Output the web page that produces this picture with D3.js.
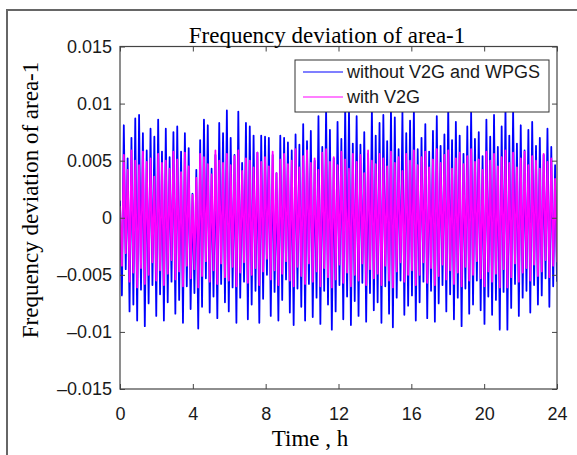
<!DOCTYPE html>
<html>
<head>
<meta charset="utf-8">
<script src="https://cdn.jsdelivr.net/npm/d3@7"></script>
<style>
  body { margin: 0; background: #fff; }
  svg { display: block; }
</style>
</head>
<body>
<div id="chart"></div>
<script>
// frequency deviation, in units of 1e-3
// each series alternates peak / trough, so peaks and troughs are kept apart
const blueHi = [
  1.5, 8.1, 5.2, 7.0, 8.7, 9.0, 7.4, 5.9, 7.8, 7.1, 8.6, 5.8, 7.8, 5.3, 7.5, 8.0, 5.8, 7.4, 6.1, 2.1,
  4.2, 6.8, 8.6, 8.1, 4.3, 5.5, 8.3, 7.4, 9.4, 7.0, 5.5, 9.3, 4.8, 8.3, 8.0, 7.2, 5.7, 7.2,
  7.1, 7.0, 5.5, 3.9, 7.2, 7.0, 6.6, 5.9, 7.3, 6.4, 8.2, 6.7, 7.6, 5.0, 8.9, 6.2, 9.6, 7.7, 5.2, 8.4,
  6.9, 9.7, 9.6, 6.5, 8.9, 6.4, 7.5, 5.6, 9.7, 7.2, 8.3, 9.0, 6.7, 9.7, 8.8, 6.0, 9.3, 7.4,
  8.5, 9.6, 6.0, 7.0, 8.2, 5.8, 7.6, 8.9, 6.3, 7.3, 9.7, 6.8, 8.4, 7.2, 5.6, 8.0, 9.3, 6.9, 7.5, 5.4,
  8.6, 7.1, 9.0, 6.2, 8.0, 9.6, 7.2, 9.5, 6.5, 8.1, 5.9, 7.7, 8.4, 6.3, 7.0, 5.5, 7.8, 6.2, 4.6
];
const blueLo = [
  -6.8, -4.5, -8.2, -7.6, -9.0, -6.3, -9.5, -7.5, -5.9, -8.6, -6.7, -9.0, -7.4, -5.6, -8.4, -7.2, -9.2, -6.0, -8.0, -6.6,
  -9.7, -7.8, -5.3, -8.3, -6.9, -8.8, -5.8, -7.4, -8.2, -6.1, -9.2, -7.0, -5.6, -8.9, -7.6, -6.4, -9.2, -7.1,
  -5.0, -8.6, -6.5, -9.0, -7.2, -5.4, -8.3, -9.4, -6.2, -7.8, -9.0, -5.8, -8.7, -7.0, -9.3, -6.4, -7.6, -9.8, -8.2, -5.9,
  -8.9, -6.9, -9.4, -7.3, -8.6, -5.7, -9.1, -6.6, -8.1, -7.4, -9.2, -6.0, -8.4, -9.6, -7.0, -5.5, -8.5, -7.7,
  -6.8, -9.0, -7.4, -5.6, -8.8, -6.4, -9.1, -7.5, -5.9, -8.2, -6.7, -8.9, -7.0, -9.5, -6.2, -8.4, -7.6, -5.5, -8.1, -9.3,
  -6.9, -8.5, -7.2, -9.8, -6.5, -9.8, -7.9, -5.8, -8.6, -7.0, -6.4, -8.3, -5.9, -7.6, -6.8, -5.3, -7.8, -6.0, -5.6
];
const pinkHi = [
  1.0, 5.5, 4.2, 5.9, 5.0, 4.6, 5.8, 4.9, 5.2, 3.6, 5.6, 4.8, 5.0, 4.3, 5.8, 5.1, 4.0, 5.7, 4.5, 2.0,
  3.5, 5.6, 5.3, 4.7, 3.8, 5.9, 5.0, 4.8, 5.6, 4.6, 5.4, 5.9, 4.1, 5.2, 5.0, 4.4, 5.7, 4.9,
  5.3, 4.5, 5.8, 3.9, 5.1, 5.6, 4.7, 5.0, 6.0, 4.4, 5.4, 5.9, 4.8, 5.2, 4.2, 5.7, 6.0, 4.9, 5.3, 4.6,
  5.8, 5.1, 4.3, 5.6, 4.9, 5.5, 3.9, 5.9, 5.0, 4.7, 5.6, 5.2, 4.5, 5.8, 4.8, 5.3, 4.1, 5.6,
  5.0, 5.9, 4.6, 5.3, 5.8, 4.4, 5.1, 6.0, 4.8, 5.5, 5.9, 4.3, 5.2, 5.7, 4.7, 5.4, 6.0, 4.9, 5.1, 4.2,
  5.8, 5.0, 5.6, 4.5, 5.3, 5.9, 4.8, 5.7, 4.4, 5.2, 5.8, 4.6, 5.4, 5.0, 4.3, 5.6, 4.9, 5.2, 3.4
];
const pinkLo = [
  -4.2, -3.1, -5.6, -4.8, -6.1, -4.4, -5.8, -5.0, -3.9, -5.5, -4.6, -5.9, -4.9, -3.7, -5.4, -4.7, -6.0, -4.2, -5.3, -4.5,
  -6.1, -5.1, -3.8, -5.6, -4.6, -5.8, -4.0, -5.2, -5.5, -4.3, -6.0, -4.8, -3.9, -5.7, -5.0, -4.4, -5.9, -4.7,
  -3.6, -5.4, -4.6, -5.9, -4.9, -3.8, -5.5, -6.0, -4.3, -5.1, -5.8, -4.0, -5.6, -4.7, -6.0, -4.4, -5.2, -6.1, -5.4, -4.1,
  -5.7, -4.8, -6.0, -5.0, -5.5, -4.0, -5.9, -4.5, -5.3, -4.9, -5.9, -4.2, -5.5, -6.1, -4.7, -3.9, -5.6, -5.0,
  -4.6, -5.9, -5.0, -3.9, -5.7, -4.4, -5.9, -5.1, -4.1, -5.4, -4.6, -5.8, -4.8, -6.0, -4.3, -5.5, -5.0, -3.8, -5.3, -6.0,
  -4.7, -5.6, -4.9, -6.1, -4.5, -6.1, -5.2, -4.0, -5.6, -4.8, -4.4, -5.5, -4.1, -5.1, -4.7, -3.7, -5.2, -4.2, -3.9
];

const xTicks = [0, 4, 8, 12, 16, 20, 24];
const yTicks = [0.015, 0.01, 0.005, 0, -0.005, -0.01, -0.015];
const yTickLabels = ["0.015", "0.01", "0.005", "0", "\u20130.005", "\u20130.01", "\u20130.015"];
const seriesNames = ["without V2G and WPGS", "with V2G"];
const seriesColors = ["#0000ff", "#ff00ff"];

const W = 577, H = 455;
const margin = { top: 46.5, right: 20, bottom: 66, left: 120 };
const width = W - margin.left - margin.right;
const height = H - margin.top - margin.bottom;

// put peaks and troughs back in time order
function weave(hi, lo) {
  return hi.flatMap((v, i) => [v, lo[i]]).map(v => v * 1e-3);
}
const series = [weave(blueHi, blueLo), weave(pinkHi, pinkLo)];

const svg = d3.select("#chart").append("svg")
  .attr("width", W)
  .attr("height", H);

// figure frame (only the left and top edges show in the picture)
svg.append("path")
  .attr("d", `M7,${H} V10 H${W}`)
  .attr("fill", "none")
  .attr("stroke", "#666")
  .attr("stroke-width", 2);

const g = svg.append("g")
  .attr("transform", `translate(${margin.left},${margin.top})`);

const x = d3.scaleLinear().domain([0, 24]).range([0, width]);
const y = d3.scaleLinear().domain([-0.015, 0.015]).range([height, 0]);

g.append("clipPath").attr("id", "clip")
  .append("rect").attr("width", width).attr("height", height);

const line = d3.line()
  .x((d, i, arr) => x(i * 24 / (arr.length - 1)))
  .y(d => y(d));

g.append("g").attr("clip-path", "url(#clip)")
  .selectAll("path")
  .data(series)
  .join("path")
  .attr("d", d => line(d))
  .attr("fill", "none")
  .attr("stroke", (d, i) => seriesColors[i])
  .attr("stroke-width", 1.8)
  .attr("stroke-linejoin", "round");

// axes, ticks pointing inwards on all four sides
const tickFont = "'Liberation Sans', Arial, sans-serif";

const xAxis = g.append("g")
  .attr("transform", `translate(0,${height})`)
  .call(d3.axisBottom(x).tickValues(xTicks).tickSize(-5).tickPadding(18));
xAxis.selectAll("text").attr("dy", "0.71em");

g.append("g")
  .call(d3.axisTop(x).tickValues(xTicks).tickSize(-5).tickFormat(""));

g.append("g")
  .call(d3.axisLeft(y).tickValues(yTicks).tickSize(-5).tickPadding(8)
    .tickFormat((d, i) => yTickLabels[i]));

g.append("g")
  .attr("transform", `translate(${width},0)`)
  .call(d3.axisRight(y).tickValues(yTicks).tickSize(-5).tickFormat(""));

g.selectAll(".domain").remove();
g.selectAll(".tick line").attr("stroke", "#444");
g.selectAll(".tick text")
  .attr("fill", "#1a1a1a")
  .style("font-family", tickFont)
  .style("font-size", "18px");

g.append("rect")
  .attr("width", width)
  .attr("height", height)
  .attr("fill", "none")
  .attr("stroke", "#444")
  .attr("stroke-width", 1.2);

// titles
const serif = "'Liberation Serif', 'Times New Roman', serif";
svg.append("text")
  .attr("x", 327).attr("y", 43)
  .attr("text-anchor", "middle")
  .style("font-family", serif).style("font-size", "23px")
  .text("Frequency deviation of area-1");

svg.append("text")
  .attr("x", 310).attr("y", 446)
  .attr("text-anchor", "middle")
  .style("font-family", serif).style("font-size", "23px")
  .text("Time , h");

svg.append("text")
  .attr("transform", "translate(38,200) rotate(-90)")
  .attr("text-anchor", "middle")
  .style("font-family", serif).style("font-size", "23px")
  .text("Frequency deviation of area-1");

// legend
const legend = svg.append("g").attr("transform", "translate(295,60)");
legend.append("rect")
  .attr("width", 254).attr("height", 52)
  .attr("fill", "#fff")
  .attr("stroke", "#333")
  .attr("stroke-width", 1);

const items = legend.selectAll(".item")
  .data(seriesNames)
  .join("g")
  .attr("class", "item")
  .attr("transform", (d, i) => `translate(0,${12 + i * 25})`);

items.append("line")
  .attr("x1", 8).attr("x2", 48)
  .attr("stroke", (d, i) => seriesColors[i])
  .attr("stroke-width", 1.2);

items.append("text")
  .attr("x", 52).attr("dy", "0.35em")
  .attr("fill", "#1a1a1a")
  .style("font-family", tickFont).style("font-size", "18px")
  .text(d => d);
</script>
</body>
</html>
